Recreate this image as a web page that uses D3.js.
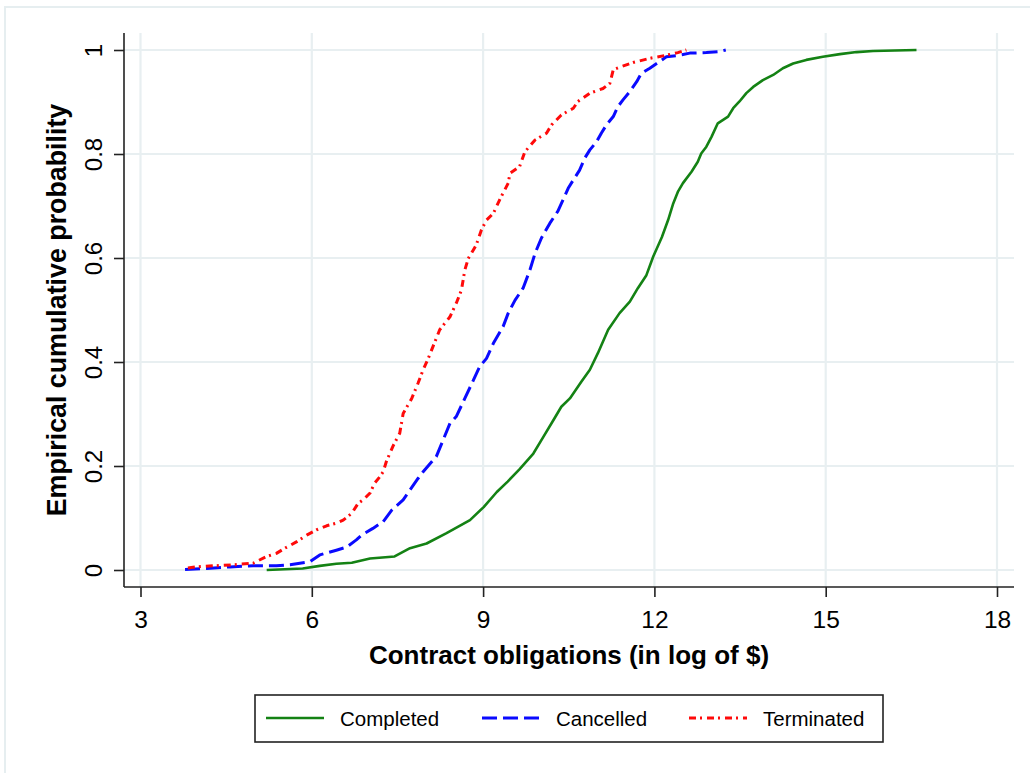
<!DOCTYPE html>
<html lang="en">
  <head>
    <meta charset="utf-8" />
    <title>Empirical cumulative probability</title>
    <script src="https://d3js.org/d3.v7.min.js"></script>
    <style>
      body { margin: 0; background: #fff; }
      svg { font-family: "Liberation Sans", Arial, sans-serif; }
    </style>
  </head>
  <body>
    <div id="graph-display"></div>
    <script>
      // tick labels
      const xTicks = [3, 6, 9, 12, 15, 18];
      const yTicks = [0, 0.2, 0.4, 0.6, 0.8, 1];
      const seriesNames = ["Completed", "Cancelled", "Terminated"];

      // Completed (log of $, cumulative probability)
      const completedX = [5.21, 5.84, 6.14, 6.43, 6.70, 7.02, 7.45, 7.72, 8.01, 8.36, 8.77, 9.01, 9.24, 9.43, 9.64, 9.88, 10.05, 10.23, 10.37, 10.52, 10.72, 10.87, 11.01, 11.19, 11.39, 11.57, 11.71, 11.86, 11.98, 12.13, 12.24, 12.33, 12.41, 12.50, 12.65, 12.76, 12.82, 12.91, 13.00, 13.11, 13.29, 13.38, 13.49, 13.61, 13.73, 13.90, 14.08, 14.25, 14.43, 14.66, 14.95, 15.25, 15.54, 15.83, 16.59];
      const completedY = [0, 0.003, 0.008, 0.012, 0.014, 0.022, 0.026, 0.042, 0.051, 0.071, 0.096, 0.121, 0.150, 0.170, 0.194, 0.224, 0.255, 0.288, 0.314, 0.330, 0.362, 0.385, 0.417, 0.462, 0.494, 0.516, 0.542, 0.567, 0.603, 0.640, 0.673, 0.705, 0.727, 0.744, 0.766, 0.785, 0.801, 0.814, 0.833, 0.859, 0.872, 0.888, 0.901, 0.917, 0.929, 0.942, 0.952, 0.965, 0.974, 0.981, 0.987, 0.992, 0.996, 0.998, 1.0];

      // Cancelled
      const cancelledX = [3.78, 4.16, 4.57, 4.97, 5.38, 5.62, 5.97, 6.14, 6.43, 6.61, 6.78, 6.87, 7.07, 7.25, 7.40, 7.60, 7.72, 7.86, 7.95, 8.10, 8.18, 8.30, 8.42, 8.53, 8.68, 8.83, 8.94, 9.06, 9.18, 9.35, 9.44, 9.56, 9.70, 9.82, 9.91, 10.02, 10.17, 10.31, 10.40, 10.49, 10.58, 10.69, 10.78, 10.87, 10.99, 11.07, 11.16, 11.28, 11.36, 11.45, 11.57, 11.69, 11.77, 11.92, 12.04, 12.21, 12.44, 12.62, 12.91, 13.14, 13.25];
      const cancelledY = [0.001, 0.003, 0.006, 0.008, 0.008, 0.010, 0.016, 0.029, 0.038, 0.044, 0.058, 0.067, 0.080, 0.093, 0.115, 0.135, 0.154, 0.176, 0.189, 0.208, 0.218, 0.250, 0.282, 0.295, 0.330, 0.365, 0.391, 0.407, 0.436, 0.468, 0.494, 0.519, 0.542, 0.577, 0.609, 0.638, 0.667, 0.690, 0.712, 0.734, 0.750, 0.769, 0.792, 0.808, 0.824, 0.840, 0.856, 0.872, 0.891, 0.904, 0.920, 0.939, 0.955, 0.965, 0.974, 0.987, 0.990, 0.994, 0.995, 0.997, 1.0];

      // Terminated
      const terminatedX = [3.83, 3.98, 4.27, 4.62, 4.97, 5.21, 5.38, 5.53, 5.73, 5.91, 6.08, 6.26, 6.43, 6.55, 6.70, 6.81, 6.90, 7.02, 7.10, 7.19, 7.25, 7.31, 7.43, 7.54, 7.60, 7.75, 7.86, 7.95, 8.04, 8.12, 8.24, 8.42, 8.53, 8.62, 8.68, 8.74, 8.88, 8.97, 9.06, 9.18, 9.29, 9.44, 9.47, 9.64, 9.73, 9.91, 10.11, 10.20, 10.37, 10.58, 10.66, 10.87, 11.10, 11.22, 11.28, 11.42, 11.63, 11.92, 12.21, 12.41, 12.56];
      const terminatedY = [0.004, 0.006, 0.008, 0.010, 0.013, 0.026, 0.032, 0.042, 0.054, 0.067, 0.077, 0.085, 0.090, 0.096, 0.109, 0.128, 0.135, 0.148, 0.167, 0.179, 0.189, 0.210, 0.240, 0.263, 0.301, 0.330, 0.359, 0.385, 0.407, 0.429, 0.462, 0.487, 0.513, 0.538, 0.577, 0.599, 0.625, 0.654, 0.673, 0.686, 0.712, 0.744, 0.763, 0.776, 0.804, 0.827, 0.840, 0.856, 0.875, 0.888, 0.901, 0.917, 0.926, 0.936, 0.962, 0.968, 0.976, 0.984, 0.990, 0.995, 1.0];

      const width = 1030;
      const height = 773;
      const plotLeft = 124, plotRight = 1014, plotTop = 33, plotBottom = 587;

      const xScale = d3.scaleLinear().domain([3, 18]).range([140.5, 997]);
      const yScale = d3.scaleLinear().domain([0, 1]).range([570, 50]);

      const series = [
        { name: seriesNames[0], xs: completedX, ys: completedY, color: "#148214", dash: null, w: 2.6 },
        { name: seriesNames[1], xs: cancelledX, ys: cancelledY, color: "#0a0aff", dash: "15,6", w: 3 },
        { name: seriesNames[2], xs: terminatedX, ys: terminatedY, color: "#ff0a0a", dash: "7,4,2,5", w: 3 }
      ];

      const svg = d3
        .select("#graph-display")
        .append("svg")
        .attr("width", width)
        .attr("height", height);

      // outer frame
      svg.append("rect")
        .attr("x", 5).attr("y", 7)
        .attr("width", 1040).attr("height", 800)
        .attr("fill", "#fff")
        .attr("stroke", "#e6eef0")
        .attr("stroke-width", 2);

      // gridlines
      const grid = svg.append("g").attr("stroke", "#e8eff1").attr("stroke-width", 2.2);
      grid.selectAll("line.h")
        .data(yTicks)
        .enter().append("line")
        .attr("class", "h")
        .attr("x1", plotLeft).attr("x2", plotRight)
        .attr("y1", d => yScale(d)).attr("y2", d => yScale(d));
      grid.selectAll("line.v")
        .data(xTicks)
        .enter().append("line")
        .attr("class", "v")
        .attr("x1", d => xScale(d)).attr("x2", d => xScale(d))
        .attr("y1", plotTop).attr("y2", plotBottom);

      // curves
      const lineGen = d3.line().x(d => xScale(d[0])).y(d => yScale(d[1]));
      series.forEach(s => {
        const pts = s.xs.map((x, i) => [x, s.ys[i]]);
        svg.append("path")
          .datum(pts)
          .attr("fill", "none")
          .attr("stroke", s.color)
          .attr("stroke-width", s.w)
          .attr("stroke-dasharray", s.dash)
          .attr("stroke-linejoin", "round")
          .attr("d", lineGen);
      });

      // y axis
      const yAxis = svg.append("g")
        .attr("transform", `translate(${plotLeft},0)`)
        .call(d3.axisLeft(yScale).tickValues(yTicks).tickFormat(d3.format("~g")).tickSize(10).tickSizeOuter(0));
      yAxis.select(".domain").attr("d", `M0,${plotTop}V${plotBottom}`);
      yAxis.selectAll("text")
        .attr("x", null).attr("dy", null)
        .attr("transform", "translate(-22,0) rotate(-90)")
        .attr("text-anchor", "middle")
        .style("font-size", "24px")
        .style("font-family", "'Liberation Sans', Arial, sans-serif")
        .attr("fill", "#000");

      // x axis
      const xAxis = svg.append("g")
        .attr("transform", `translate(0,${plotBottom})`)
        .call(d3.axisBottom(xScale).tickValues(xTicks).tickSize(10).tickSizeOuter(0));
      xAxis.select(".domain").attr("d", `M${plotLeft},0H${plotRight}`);
      xAxis.selectAll("text")
        .attr("y", 41).attr("dy", null)
        .style("font-size", "24.5px")
        .style("font-family", "'Liberation Sans', Arial, sans-serif")
        .attr("fill", "#000");

      svg.selectAll(".domain, .tick line")
        .attr("stroke", "#222")
        .attr("stroke-width", 1.6);

      // axis titles
      svg.append("text")
        .attr("x", (plotLeft + plotRight) / 2)
        .attr("y", 664)
        .attr("text-anchor", "middle")
        .style("font-size", "26px")
        .style("font-weight", "bold")
        .attr("fill", "#000")
        .text("Contract obligations (in log of $)");

      svg.append("text")
        .attr("transform", `translate(66,${(plotTop + plotBottom) / 2}) rotate(-90)`)
        .attr("text-anchor", "middle")
        .style("font-size", "26.8px")
        .style("font-weight", "bold")
        .attr("fill", "#000")
        .text("Empirical cumulative probability");

      // legend
      const legend = svg.append("g");
      legend.append("rect")
        .attr("x", 255).attr("y", 695)
        .attr("width", 628).attr("height", 47)
        .attr("fill", "#fff")
        .attr("stroke", "#222")
        .attr("stroke-width", 1.6);

      const legendX = [266, 482, 689];
      series.forEach((s, i) => {
        legend.append("line")
          .attr("x1", legendX[i]).attr("x2", legendX[i] + 58)
          .attr("y1", 718).attr("y2", 718)
          .attr("stroke", s.color)
          .attr("stroke-width", s.w)
          .attr("stroke-dasharray", s.dash);
        legend.append("text")
          .attr("x", legendX[i] + 74)
          .attr("y", 725.5)
          .style("font-size", "20.5px")
          .attr("fill", "#000")
          .text(s.name);
      });
    </script>
  </body>
</html>
